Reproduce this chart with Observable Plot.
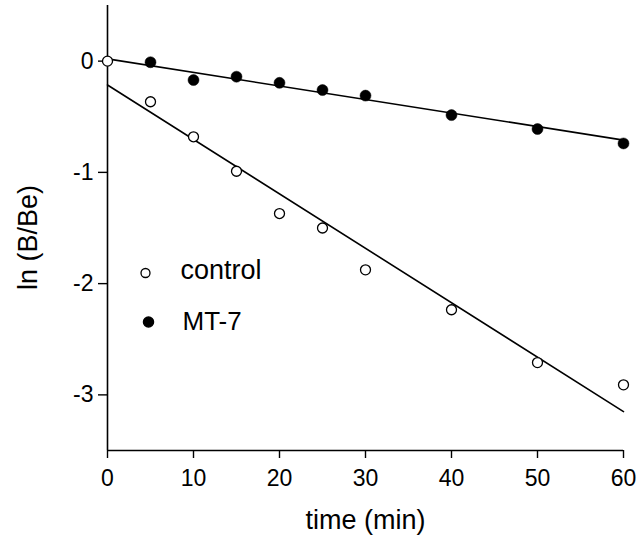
<!DOCTYPE html>
<html>
<head>
<meta charset="utf-8">
<script src="https://cdn.jsdelivr.net/npm/d3@7"></script>
<script src="https://cdn.jsdelivr.net/npm/@observablehq/plot@0.6"></script>
<style>
  html, body { margin: 0; padding: 0; background: #fff; }
</style>
</head>
<body>
<div id="chart"></div>
<script>
// Data
const times = [0, 5, 10, 15, 20, 25, 30, 40, 50, 60];
const control = [0, -0.365, -0.68, -0.99, -1.37, -1.50, -1.876, -2.235, -2.71, -2.91];
const mt7Times = [5, 10, 15, 20, 25, 30, 40, 50, 60];
const mt7 = [-0.01, -0.17, -0.14, -0.195, -0.26, -0.31, -0.485, -0.61, -0.74];
const fitTimes = [0, 60];
const fitControl = [-0.215, -3.15];
const fitMT7 = [0.02, -0.71];
const xTicks = [0, 10, 20, 30, 40, 50, 60];
const yTicks = [0, -1, -2, -3];
const legendLabels = ["control", "MT-7"];
const xLabel = "time (min)";
const yLabel = "ln (B/Be)";

const controlData = times.map((t, i) => ({t, v: control[i]}));
const mt7Data = mt7Times.map((t, i) => ({t, v: mt7[i]}));
const fitControlData = fitTimes.map((t, i) => ({t, v: fitControl[i]}));
const fitMT7Data = fitTimes.map((t, i) => ({t, v: fitMT7[i]}));

const font = "'Liberation Sans', Arial, Helvetica, sans-serif";

const chart = Plot.plot({
  width: 640,
  height: 538,
  marginLeft: 107,
  marginRight: 17,
  marginTop: 5,
  marginBottom: 88,
  style: {fontFamily: font, background: "#fff", color: "#000"},
  x: {domain: [0, 60]},
  y: {domain: [-3.5, 0.5]},
  marks: [
    Plot.axisX({ticks: xTicks, tickSize: 8, tickPadding: 11, fontSize: 23, label: null, strokeWidth: 1.4, tickFormat: d => String(d)}),
    Plot.axisY({ticks: yTicks, tickSize: 9, tickPadding: 5, fontSize: 23, label: null, strokeWidth: 1.4, tickFormat: d => String(d)}),
    Plot.ruleX([0], {y1: -3.5, y2: 0.5, strokeWidth: 1.6}),
    Plot.ruleY([-3.5], {x1: 0, x2: 60, strokeWidth: 1.6}),
    Plot.line(fitControlData, {x: "t", y: "v", stroke: "black", strokeWidth: 1.6}),
    Plot.line(fitMT7Data, {x: "t", y: "v", stroke: "black", strokeWidth: 1.6}),
    Plot.dot(mt7Data, {x: "t", y: "v", r: 5.5, fill: "black", stroke: "black", strokeWidth: 0.5}),
    Plot.dot(controlData, {x: "t", y: "v", r: 5, fill: "white", stroke: "black", strokeWidth: 1.3}),
    // legend
    Plot.dot([legendLabels[0]], {frameAnchor: "top-left", dx: 38, dy: 267.5, r: 4.5, fill: "white", stroke: "black", strokeWidth: 1.3}),
    Plot.dot([legendLabels[1]], {frameAnchor: "top-left", dx: 41, dy: 316.5, r: 5, fill: "black", stroke: "black"}),
    Plot.text([legendLabels[0]], {text: d => d, frameAnchor: "top-left", dx: 73, dy: 265, lineAnchor: "middle", textAnchor: "start", fontSize: 27, fill: "black"}),
    Plot.text([legendLabels[1]], {text: d => d, frameAnchor: "top-left", dx: 75, dy: 316.5, lineAnchor: "middle", textAnchor: "start", fontSize: 26, fill: "black"}),
    // axis titles
    Plot.text([xLabel], {text: d => d, frameAnchor: "bottom", dy: 78, fontSize: 27, fill: "black"}),
    Plot.text([yLabel], {text: d => d, frameAnchor: "left", dx: -79, dy: 9.5, rotate: -90, textAnchor: "middle", lineAnchor: "middle", fontSize: 27, fill: "black"})
  ]
});
document.getElementById("chart").appendChild(chart);
</script>
</body>
</html>
